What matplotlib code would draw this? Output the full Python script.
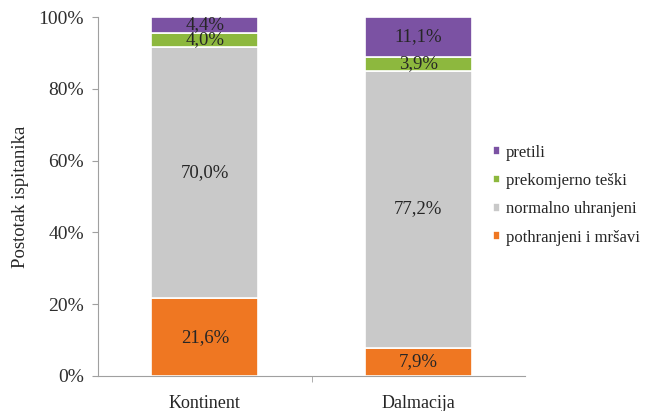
import numpy as np
import matplotlib.pyplot as plt

plt.rcParams['font.family'] = ['Liberation Serif', 'DejaVu Serif']

# data (percent)
regions = ['Kontinent', 'Dalmacija']
series = ['pothranjeni i mršavi', 'normalno uhranjeni', 'prekomjerno teški', 'pretili']
pothranjeni = [21.6, 7.9]
normalno = [70.0, 77.2]
prekomjerno = [4.0, 3.9]
pretili = [4.4, 11.1]
colors = ['#ef7722', '#c9c9c9', '#8db83e', '#7b52a3']

fig = plt.figure(figsize=(6.47, 4.11), dpi=100)
ax = fig.add_axes([0.1515, 0.0852, 0.66, 0.8734])

x = np.arange(len(regions))
bottom = np.zeros(len(regions))
handles = []
for name, vals, col in zip(series, [pothranjeni, normalno, prekomjerno, pretili], colors):
    vals = np.array(vals)
    # total slightly above 100 for Dalmacija, clip the top
    heights = np.minimum(vals, 100 - bottom)
    bars = ax.bar(x, heights, width=0.5, bottom=bottom, color=col,
                  edgecolor='white', linewidth=1.2, label=name)
    handles.append(bars)
    for xi, b, v, h in zip(x, bottom, vals, heights):
        ax.text(xi, b + h / 2, '{:.1f}%'.format(v).replace('.', ','),
                ha='center', va='center', fontsize=13.5, color='#262626')
    bottom += heights

ax.set_xlim(-0.5, 1.5)
ax.set_ylim(0, 100)
ax.set_yticks(np.arange(0, 101, 20))
ax.set_yticklabels(['{}%'.format(v) for v in range(0, 101, 20)], fontsize=14, color='#2e2e2e')
ax.set_xticks(x)
ax.set_xticklabels(regions, fontsize=13, color='#262626')
ax.tick_params(axis='x', length=0, pad=14)
ax.tick_params(axis='y', length=4, color='#a0a0a0', direction='out', pad=6)
# minor tick between the categories
ax.set_xticks([0.5], minor=True)
ax.tick_params(axis='x', which='minor', length=4, color='#a0a0a0', direction='out')

for side in ['top', 'right']:
    ax.spines[side].set_visible(False)
for side in ['left', 'bottom']:
    ax.spines[side].set_color('#a0a0a0')

ax.set_ylabel('Postotak ispitanika', fontsize=13.5, color='#262626', labelpad=7)

fig.legend(handles[::-1], series[::-1], loc='center left', bbox_to_anchor=(493 / 647, 0.5255),
           frameon=False, fontsize=12, handlelength=0.42, handleheight=0.42,
           handletextpad=0.35, labelspacing=0.74, borderpad=0, borderaxespad=0,
           labelcolor='#262626')

fig.savefig('out.png', dpi=100)
